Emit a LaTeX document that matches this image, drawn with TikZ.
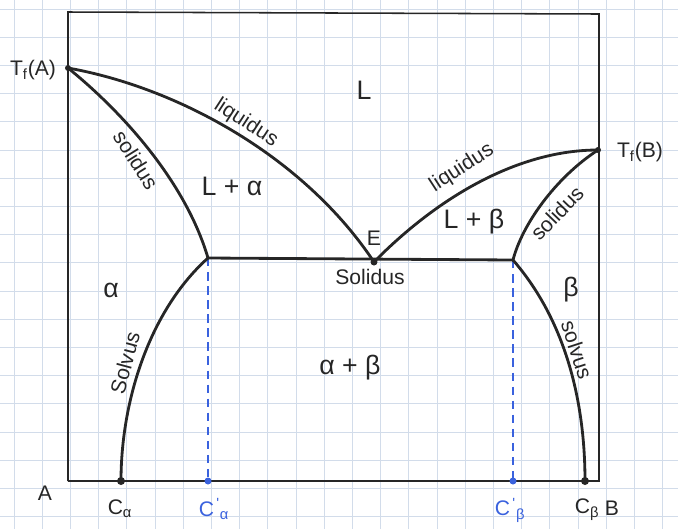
\documentclass[tikz,border=0pt]{standalone}
\usepackage{fontspec}
\setmainfont{Liberation Sans}
\usetikzlibrary{positioning}
\definecolor{gridblue}{RGB}{210,220,234}
\definecolor{inkblue}{RGB}{58,98,222}
\definecolor{pencil}{RGB}{38,38,38}

\begin{document}
\begin{tikzpicture}[x=0.025cm, y=-0.025cm,
  font=\fontsize{15}{17}\selectfont,
  curve/.style={draw=pencil, line width=2pt, line cap=round},
  frame/.style={draw=pencil, line width=1.1pt},
  tie/.style={draw=inkblue, line width=1.2pt, dash pattern=on 6pt off 4pt},
  lbl/.style={text=pencil, inner sep=1pt},
  big/.style={lbl, font=\fontsize{19}{21}\selectfont},
  bluelbl/.style={text=inkblue, inner sep=1pt},
  dot/.style={fill=pencil},
]
\useasboundingbox (0,0) rectangle (678,529);
% paper grid
\foreach \gx in {0,...,23} \draw[gridblue, line width=0.5pt] ({14+28.2*\gx},0) -- ({14+28.2*\gx},529);
\foreach \gy in {0,...,18} \draw[gridblue, line width=0.5pt] (0,{9+28.2*\gy}) -- (678,{9+28.2*\gy});

% key points
\coordinate (TL) at (68,12);
\coordinate (TR) at (599,14);
\coordinate (BL) at (68,481);
\coordinate (BR) at (599,481);
\coordinate (TA) at (68,68);
\coordinate (TB) at (598,150);
\coordinate (E) at (374,262);
\coordinate (Sa) at (208,258);
\coordinate (Sb) at (513,260);
\coordinate (Ca) at (121,481);
\coordinate (Cb) at (585,481);
\coordinate (Cpa) at (208,481);
\coordinate (Cpb) at (513,481);

% frame
\draw[frame] (BL) -- (TL) -- (TR) -- (BR) -- (BL);

% tie lines
\draw[tie] (Sa) -- (Cpa);
\draw[tie] (Sb) -- (Cpb);

% phase boundaries
\draw[curve] (TA) .. controls (180,88) and (305,158) .. (E);
\draw[curve] (TA) .. controls (120,110) and (185,180) .. (Sa);
\draw[curve] (E) .. controls (440,195) and (520,150) .. (TB);
\draw[curve] (Sb) .. controls (522,225) and (555,178) .. (TB);
\draw[curve] (Sa) -- (Sb);
\draw[curve] (Sa) .. controls (150,310) and (121,400) .. (Ca);
\draw[curve] (Sb) .. controls (565,320) and (585,400) .. (Cb);

% points
\fill[dot] (TA) circle (3);
\fill[dot] (TB) circle (3);
\fill[dot] (E) circle (3.5);
\fill[dot] (Ca) circle (4);
\fill[dot] (Cb) circle (4);
\fill[inkblue] (Cpa) circle (3.5);
\fill[inkblue] (Cpb) circle (3.5);

% labels
\node[lbl] (tfa) at (33,70) {T\textsubscript{f}(A)};
\node[lbl] (tfb) at (640,152) {T\textsubscript{f}(B)};
\node[big] (liq) at (364,90) {L};
\node[lbl, rotate=-33] (liqa) at (246,123) {liquidus};
\node[lbl, rotate=-58] (sola) at (136,160) {solidus};
\node[big] (la) at (232,186) {L + α};
\node[lbl] (eu) at (374,238) {E};
\node[lbl, rotate=33] (liqb) at (462,168) {liquidus};
\node[big] (lb) at (474,222) {L + β};
\node[lbl, rotate=46] (solb) at (557,213) {solidus};
\node[big] (al) at (111,290) {α};
\node[lbl] (solc) at (370,277) {Solidus};
\node[big] (be) at (571,290) {β};
\node[lbl, rotate=75] (svla) at (125,363) {Solvus};
\node[big] (ab) at (350,368) {α + β};
\node[lbl, rotate=-72] (svlb) at (577,350) {solvus};
\node[lbl] (pa) at (45,493) {A};
\node[lbl] (ca) at (120,509) {C\textsubscript{α}};
\node[bluelbl] (cpa) at (214,509) {C\textsuperscript{\,\textquotesingle}\textsubscript{α}};
\node[bluelbl] (cpb) at (510,510) {C\textsuperscript{\,\textquotesingle}\textsubscript{β}};
\node[lbl] (cb) at (587,510) {C\textsubscript{β}};
\node[lbl] (pb) at (612,508) {B};
\end{tikzpicture}
\end{document}
